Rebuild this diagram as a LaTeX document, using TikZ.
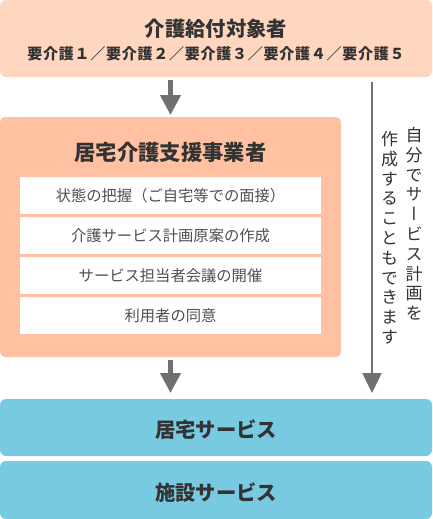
\documentclass[tikz,border=0pt]{standalone}
\usepackage{fontspec}
\setmainfont{Noto Sans CJK JP}
\newfontfamily\vjp[RawFeature=+vert]{Noto Sans CJK JP}
\newfontfamily\spacedjp[LetterSpace=5]{Noto Sans CJK JP}
\usetikzlibrary{arrows.meta}
\definecolor{peachlight}{HTML}{FFD6BF}
\definecolor{peach}{HTML}{FFC1A1}
\definecolor{sky}{HTML}{78CAE0}
\definecolor{arrowgray}{HTML}{707070}
\definecolor{ink}{HTML}{333333}
\definecolor{inkgray}{HTML}{505050}
\begin{document}
\begin{tikzpicture}[x=1pt,y=-1pt,
  panel/.style={inner sep=0pt, outer sep=0pt, draw=none, rounded corners=6pt},
  titletext/.style={inner sep=0pt, text=ink, font=\fontsize{20.3}{24}\selectfont\bfseries},
  subtext/.style={inner sep=0pt, text=ink, font=\fontsize{15}{17}\spacedjp\bfseries},
  stepbox/.style={fill=white, inner sep=0pt, minimum width=301pt, minimum height=37pt,
    text=inkgray, font=\fontsize{15.3}{18}\selectfont},
  verttext/.style={inner sep=0pt, anchor=north, align=center, text=ink,
    font=\fontsize{17}{19.8}\vjp},
  bigarrow/.style={draw=arrowgray, line width=4.3pt, -{Triangle[width=20pt,length=20pt]}},
  thinarrow/.style={draw=arrowgray, line width=2.5pt, -{Triangle[width=19pt,length=20pt]}},
]
\useasboundingbox (0,0) rectangle (432,519);
% top panel
\node[panel, fill=peachlight, minimum width=432pt, minimum height=77pt] (top) at (216,38.5) {};
\node[titletext] (toptitle) at (216,29) {介護給付対象者};
\node[subtext] (topsub) at (216,54) {要介護１／要介護２／要介護３／要介護４／要介護５};
% middle panel
\node[panel, fill=peach, rounded corners=5pt, minimum width=341pt, minimum height=240pt] (mid) at (170.5,237) {};
\node[titletext, font=\fontsize{21.3}{25}\selectfont\bfseries] (midtitle) at (170.5,152) {居宅介護支援事業者};
\node[stepbox] (s1) at (170.5,195.5) {状態の把握（ご自宅等での面接）};
\node[stepbox] (s2) at (170.5,235.5) {介護サービス計画原案の作成};
\node[stepbox] (s3) at (170.5,275.5) {サービス担当者会議の開催};
\node[stepbox] (s4) at (170.5,315.5) {利用者の同意};
% bottom panels
\node[panel, fill=sky, minimum width=432pt, minimum height=57pt] (home) at (216,427.5) {};
\node[titletext] (hometext) at (216,429.5) {居宅サービス};
\node[panel, fill=sky, minimum width=432pt, minimum height=58pt] (facility) at (216,490) {};
\node[titletext] (facilitytext) at (216,492.5) {施設サービス};
% vertical note
\node[verttext] (vright) at (414,127) {自\\分\\で\\サ\\ー\\ビ\\ス\\計\\画\\を};
\node[verttext] (vleft) at (389.5,131) {作\\成\\す\\る\\こ\\と\\も\\で\\き\\ま\\す};
% arrows
\coordinate (rx) at (372,0);
\draw[bigarrow, shorten <=3pt, shorten >=2pt] (top.south -| mid.north) -- (mid.north);
\draw[bigarrow, shorten <=3pt, shorten >=6pt] (mid.south) -- (home.north -| mid.south);
\draw[thinarrow, shorten <=5pt, shorten >=6pt] (top.south -| rx) -- (home.north -| rx);
\end{tikzpicture}
\end{document}
